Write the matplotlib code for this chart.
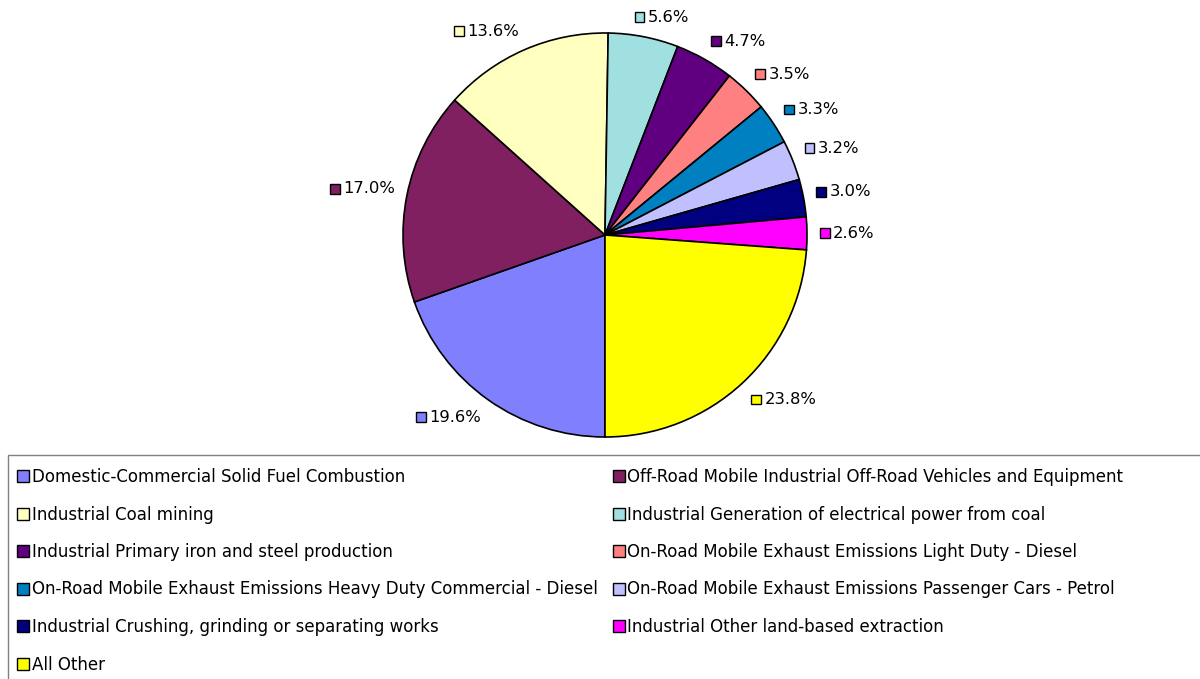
import numpy as np
import matplotlib
matplotlib.use("Agg")
import matplotlib.pyplot as plt
from matplotlib.patches import Rectangle
from matplotlib.offsetbox import AnnotationBbox, DrawingArea, TextArea, HPacker

plt.rcParams["font.family"] = ["DejaVu Sans"]

categories = [
    "Domestic-Commercial Solid Fuel Combustion",
    "Off-Road Mobile Industrial Off-Road Vehicles and Equipment",
    "Industrial Coal mining",
    "Industrial Generation of electrical power from coal",
    "Industrial Primary iron and steel production",
    "On-Road Mobile Exhaust Emissions Light Duty - Diesel",
    "On-Road Mobile Exhaust Emissions Heavy Duty Commercial - Diesel",
    "On-Road Mobile Exhaust Emissions Passenger Cars - Petrol",
    "Industrial Crushing, grinding or separating works",
    "Industrial Other land-based extraction",
    "All Other",
]
shares = [19.6, 17.0, 13.6, 5.6, 4.7, 3.5, 3.3, 3.2, 3.0, 2.6, 23.8]
colors = ["#8080FF", "#802060", "#FFFFC0", "#A0E0E0", "#600080", "#FF8080",
          "#0080C0", "#C0C0FF", "#000080", "#FF00FF", "#FFFF00"]

W, H = 1200, 679
fig = plt.figure(figsize=(W / 100, H / 100), dpi=100)
fs = 11.8

# pie centre (605, 235) px, radius 202 px
cx, cy, r = 605, 235, 202
ax = fig.add_axes([(cx - r) / W, (H - cy - r) / H, 2 * r / W, 2 * r / H])
wedges, _ = ax.pie(shares, colors=colors, startangle=-90, counterclock=False,
                   wedgeprops=dict(edgecolor="black", linewidth=1.2))
ax.set_xlim(-1, 1)
ax.set_ylim(-1, 1)
ax.set_aspect("equal")
ax.axis("off")

# labels sit just outside the rim, pushed outward like Excel's "outside end"
for w, val, col in zip(wedges, shares, colors):
    mid = np.deg2rad((w.theta1 + w.theta2) / 2)
    c, s = np.cos(mid), np.sin(mid)
    x, y = 1.06 * c, 1.06 * s
    bx = 0.5 - 0.5 * np.clip(3 * c, -1, 1)
    by = 0.5 - 0.5 * np.clip(3 * s, -1, 1)
    da = DrawingArea(8, 8, 0, 0)
    da.add_artist(Rectangle((0.5, 0.5), 7, 7, facecolor=col, edgecolor="black", linewidth=1))
    ta = TextArea(f"{val:.1f}%", textprops=dict(fontsize=fs, color="black"))
    box = HPacker(children=[da, ta], align="center", pad=0, sep=2)
    ab = AnnotationBbox(box, (x, y), frameon=False, box_alignment=(bx, by),
                        annotation_clip=False, pad=0)
    ax.add_artist(ab)

# legend frame (runs off the right and bottom edges)
fig.patches.append(Rectangle((8 / W, -0.1), 1.2, 0.1 + (H - 455) / H,
                             transform=fig.transFigure, facecolor="none",
                             edgecolor="#808080", linewidth=1))

# legend laid out row by row in two columns
order = list(range(0, 11, 2)) + list(range(1, 11, 2))
handles = [Rectangle((0, 0), 1, 1, facecolor=colors[i], edgecolor="black", linewidth=1)
           for i in order]
labels = [categories[i] for i in order]
fs_leg = 12
fig.legend(handles, labels, loc="upper left", bbox_to_anchor=(17 / W, (H - 468) / H),
           ncol=2, frameon=False, fontsize=fs_leg, handlelength=0.72, handleheight=0.72,
           handletextpad=0.15, labelspacing=1.17, columnspacing=0.93,
           borderpad=0, borderaxespad=0)

fig.savefig("out.png", dpi=100)
